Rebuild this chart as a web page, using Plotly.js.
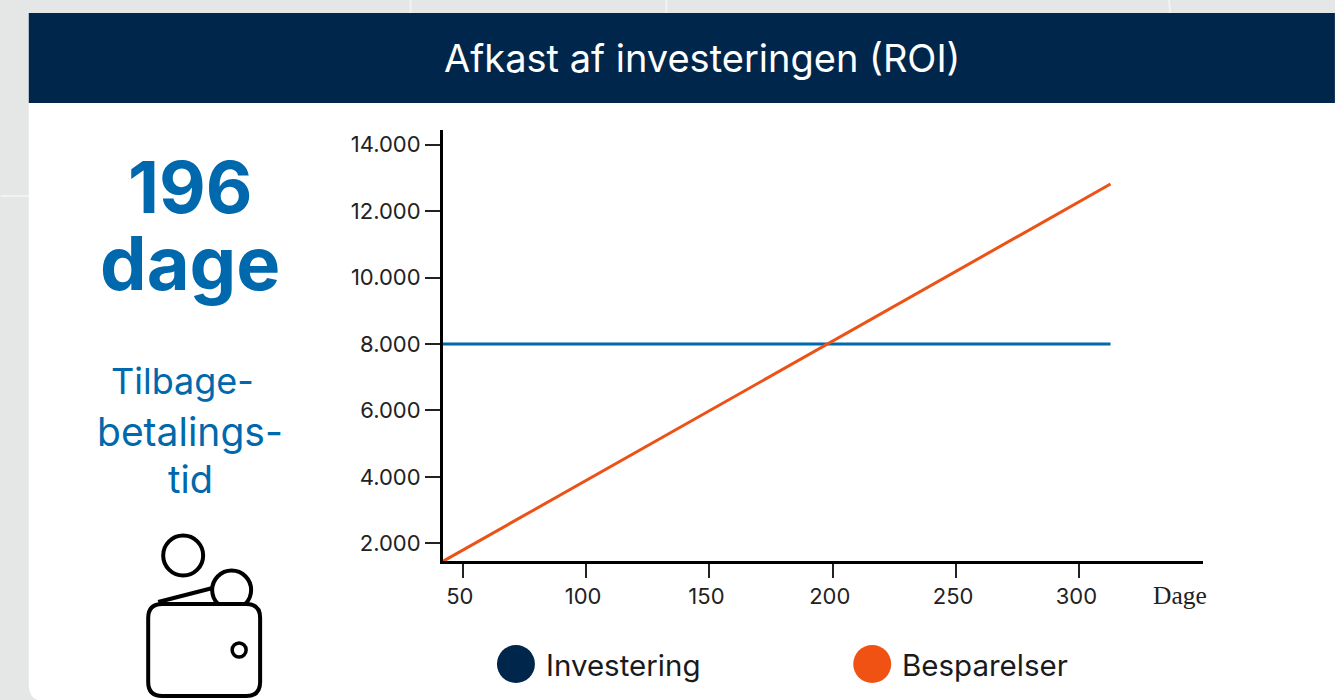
<!DOCTYPE html>
<html>
<head>
<meta charset="utf-8">
<script src="https://cdn.plot.ly/plotly-3.0.1.min.js"></script>
<style>html,body{margin:0;padding:0;background:#e5e7e6;overflow:hidden}#chart{width:1335px;height:700px}</style>
</head>
<body>
<div id="chart"></div>
<script>
const days = [41.5, 312.6];
const investering = [8000, 8000];
const besparelser = [1437, 12817];
const xTicks = [50, 100, 150, 200, 250, 300];
const yTicks = [2000, 4000, 6000, 8000, 10000, 12000, 14000];
const chartTitle = 'Afkast af investeringen (ROI)';
const seriesNames = ['Investering', 'Besparelser'];

const W = 1335, H = 700, L = 442.5, R = 1203, T = 130, B = 561;
const px = x => (x - L) / (R - L);
const py = y => (B - y) / (B - T);
const pt = (x, y) => px(x).toFixed(5) + ',' + py(y).toFixed(5);

function rr(x0, y0, x1, y1, r) {
  return 'M' + pt(x0 + r, y0) + ' L' + pt(x1 - r, y0) + ' Q' + pt(x1, y0) + ' ' + pt(x1, y0 + r) +
    ' L' + pt(x1, y1 - r) + ' Q' + pt(x1, y1) + ' ' + pt(x1 - r, y1) +
    ' L' + pt(x0 + r, y1) + ' Q' + pt(x0, y1) + ' ' + pt(x0, y1 - r) +
    ' L' + pt(x0, y0 + r) + ' Q' + pt(x0, y0) + ' ' + pt(x0 + r, y0) + ' Z';
}
function boxShape(x0, y0, x1, y1, fill) {
  return {type: 'rect', xref: 'paper', yref: 'paper', x0: px(x0), x1: px(x1), y0: py(y1), y1: py(y0),
    fillcolor: fill, line: {width: 0}, layer: 'below'};
}
function circ(cx, cy, r, fill, lineW, lineC) {
  return {type: 'circle', xref: 'paper', yref: 'paper', x0: px(cx - r), x1: px(cx + r), y0: py(cy + r), y1: py(cy - r),
    fillcolor: fill, line: {width: lineW, color: lineC || '#000'}, layer: 'above'};
}
function seg(x0, y0, x1, y1, color, w, layer) {
  return {type: 'line', xref: 'paper', yref: 'paper', x0: px(x0), x1: px(x1), y0: py(y0), y1: py(y1),
    line: {color: color, width: w}, layer: layer || 'above'};
}
function txt(x, y, text, size, color, opts) {
  return Object.assign({xref: 'paper', yref: 'paper', x: px(x), y: py(y), text: text, showarrow: false,
    xanchor: 'center', yanchor: 'middle', font: {family: 'Inter, sans-serif', size: size, color: color}}, opts || {});
}

const shapes = [
  seg(410, 0, 410, 13, '#f1f2f1', 2, 'below'),
  seg(666, 0, 666, 13, '#f1f2f1', 2, 'below'),
  seg(1169, 0, 1170, 13, '#f1f2f1', 2, 'below'),
  seg(0, 196, 28, 196, '#f1f2f1', 2, 'below'),
  {type: 'path', xref: 'paper', yref: 'paper', path: rr(28, 13, 1400, 701, 16), fillcolor: '#ffffff', line: {width: 0}, layer: 'below'},
  boxShape(28, 13, 1335, 103, '#00264b'),
  circ(182.5, 555.5, 20, '#ffffff', 4),
  circ(231, 590, 19.5, '#ffffff', 4),
  seg(157.5, 602, 212, 588, '#000', 4),
  {type: 'path', xref: 'paper', yref: 'paper', path: rr(147.5, 604, 259.5, 696, 14), fillcolor: '#ffffff', line: {width: 4, color: '#000'}, layer: 'above'},
  circ(238.5, 650, 7, '#ffffff', 3.5),
  circ(515.5, 664, 19, '#00264b', 0, '#00264b'),
  circ(872, 664, 19, '#ef5213', 0, '#ef5213')
];

const bold = {family: 'Inter, sans-serif', size: 72, color: '#0069ad', weight: 700};
const annotations = [
  txt(702, 58, chartTitle, 38, '#ffffff'),
  txt(190, 186, '196', 72, '#0069ad', {font: bold}),
  txt(189.5, 263, 'dage', 74, '#0069ad', {font: Object.assign({}, bold, {size: 74})}),
  txt(181.5, 381, 'Tilbage-', 36, '#0069ad'),
  txt(189, 431, 'betalings-', 39, '#0069ad'),
  txt(190, 479, 'tid', 38, '#0069ad'),
  txt(1180, 595, 'Dage', 25.5, '#222222', {font: {family: '"Liberation Serif", serif', size: 25.5, color: '#222222'}}),
  txt(543.5, 665, seriesNames[0], 29.5, '#1a1a1a', {xanchor: 'left'}),
  txt(899.5, 665, seriesNames[1], 29.5, '#1a1a1a', {xanchor: 'left'})
];

const traces = [
  {x: days, y: investering, name: seriesNames[0], type: 'scatter', mode: 'lines', line: {color: '#0069ad', width: 3}, cliponaxis: false},
  {x: days, y: besparelser, name: seriesNames[1], type: 'scatter', mode: 'lines', line: {color: '#ec5216', width: 3}, cliponaxis: false}
];

const layout = {
  width: W, height: H,
  margin: {l: L, r: W - R, t: T, b: H - B, pad: 0},
  paper_bgcolor: '#e5e7e6', plot_bgcolor: 'rgba(0,0,0,0)',
  separators: ',.',
  showlegend: false,
  hovermode: false,
  font: {family: 'Inter, sans-serif', color: '#1a1a1a'},
  xaxis: {
    range: [41.98, 350.1], tickmode: 'array', tickvals: xTicks, ticks: 'outside', ticklen: 14, tickwidth: 2, tickcolor: '#222',
    showline: true, linecolor: '#000', linewidth: 3, showgrid: false, zeroline: false, tickformat: 'd', ticklabelshift: -3,
    tickfont: {family: 'Inter, sans-serif', size: 22, color: '#222'}
  },
  yaxis: {
    range: [1467, 14442], tickmode: 'array', tickvals: yTicks, ticks: 'outside', ticklen: 15, tickwidth: 2, tickcolor: '#222',
    showline: true, linecolor: '#000', linewidth: 3, showgrid: false, zeroline: false, tickformat: ',d',
    tickfont: {family: 'Inter, sans-serif', size: 22, color: '#222'}
  },
  shapes: shapes,
  annotations: annotations
};

Plotly.newPlot('chart', traces, layout, {displayModeBar: false, staticPlot: true});
</script>
</body>
</html>
